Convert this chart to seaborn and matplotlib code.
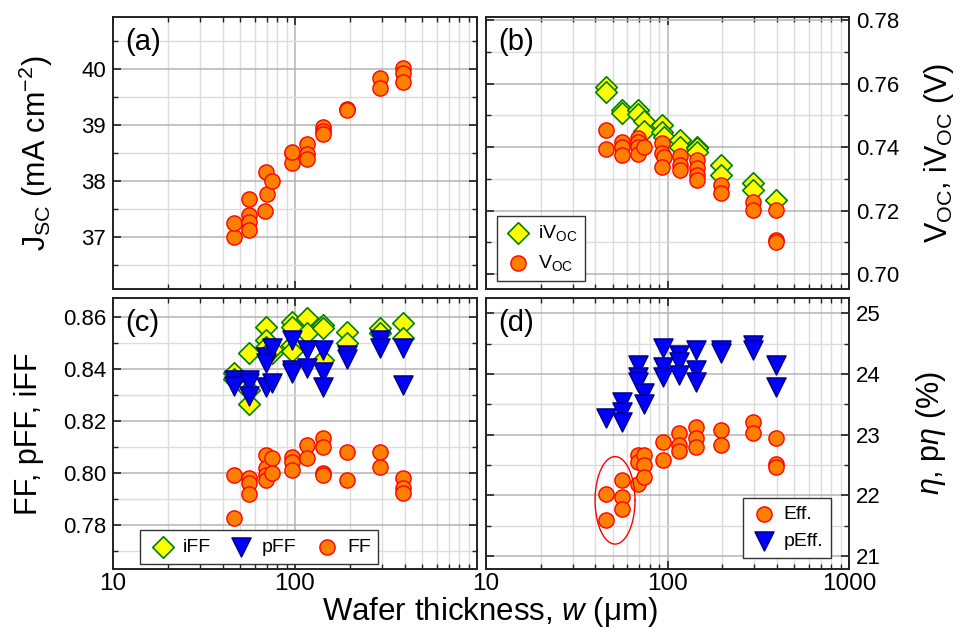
import numpy as np
import pandas as pd
import matplotlib
matplotlib.use("Agg")
import matplotlib.pyplot as plt
from matplotlib.ticker import FixedLocator, LogLocator, NullFormatter, MultipleLocator, FormatStrFormatter
import seaborn as sns

# (a) short-circuit current density
jsc_w = [46, 46, 56, 56, 56, 56, 68, 70, 69, 75, 96, 96, 96, 116, 116, 116, 142, 142, 142, 193, 193, 292, 292, 392, 392, 392]
jsc = [37.0, 37.25, 37.68, 37.39, 37.27, 37.13, 37.46, 37.77, 38.16, 38.0, 38.5, 38.33, 38.52,
       38.66, 38.48, 38.4, 38.96, 38.9, 38.84, 39.29, 39.27, 39.84, 39.66, 40.01, 39.93, 39.77]

# (b) open-circuit voltages
ivoc_w = [46, 46, 56, 56, 69, 69, 74, 74, 93, 93, 96, 117, 117, 145, 145, 145, 196, 196, 296, 296, 396]
ivoc = [0.7589, 0.7573, 0.7516, 0.7507, 0.7516, 0.7504, 0.7483, 0.745, 0.7469, 0.7447, 0.7431,
        0.7422, 0.740, 0.740, 0.7396, 0.7385, 0.7343, 0.7312, 0.7287, 0.7265, 0.7233]
voc_w = [46, 46, 56, 56, 56, 69, 69, 69, 69, 74, 93, 93, 96, 93, 117, 117, 117, 145, 145, 145, 145,
         196, 196, 296, 296, 396, 396, 396]
voc = [0.7454, 0.7394, 0.7417, 0.7401, 0.7375, 0.7429, 0.7417, 0.7401, 0.7378, 0.7401, 0.7413,
       0.7382, 0.7369, 0.7338, 0.7372, 0.7343, 0.7328, 0.7359, 0.7333, 0.7312, 0.7296, 0.728,
       0.7254, 0.7228, 0.7202, 0.7202, 0.7107, 0.7102]

# (c) fill factors
iff_w = [46, 46, 56, 56, 56, 69, 69, 69, 75, 75, 96, 96, 96, 96, 116, 116, 142, 142, 142, 193, 193, 292, 292, 392, 392]
iff = [0.8385, 0.836, 0.846, 0.8265, 0.832, 0.856, 0.851, 0.8486, 0.846, 0.8475, 0.8582, 0.8563,
       0.8492, 0.847, 0.8595, 0.854, 0.8569, 0.8556, 0.8435, 0.8543, 0.850, 0.8556, 0.8537, 0.8576, 0.8518]
pff_w = [46, 46, 56, 56, 56, 69, 69, 69, 75, 75, 96, 96, 96, 116, 116, 142, 142, 142, 193, 193, 292, 292, 392, 392]
pff = [0.8358, 0.8335, 0.8358, 0.8345, 0.8295, 0.8447, 0.8422, 0.8332, 0.848, 0.8346, 0.8512, 0.8395,
       0.8383, 0.8473, 0.8404, 0.8473, 0.839, 0.8332, 0.8454, 0.844, 0.8512, 0.848, 0.848, 0.8338]
ff_w = [46, 46, 56, 56, 56, 69, 69, 69, 69, 75, 75, 96, 96, 96, 116, 116, 142, 142, 142, 142,
        193, 193, 292, 292, 392, 392, 392]
ff = [0.7992, 0.7826, 0.798, 0.796, 0.7919, 0.8069, 0.8018, 0.7992, 0.7973, 0.8056, 0.7999, 0.8063,
      0.8044, 0.8012, 0.8108, 0.8056, 0.8133, 0.8101, 0.7999, 0.7992, 0.8082, 0.7973, 0.8082,
      0.8025, 0.798, 0.7941, 0.7922]

# (d) efficiencies
peff_w = [46, 56, 56, 56, 69, 69, 69, 74, 74, 94, 94, 94, 115, 115, 115, 144, 144, 144, 196, 196, 296, 296, 396, 396]
peff = [23.27, 23.54, 23.37, 23.21, 24.14, 23.95, 23.87, 23.68, 23.51, 24.42, 24.12, 23.95, 24.31,
        24.2, 23.98, 24.39, 24.06, 23.87, 24.39, 24.34, 24.47, 24.39, 24.14, 23.79]
eff_w = [46, 46, 56, 56, 56, 69, 69, 69, 74, 74, 74, 94, 94, 115, 115, 115, 144, 144, 144, 196, 196,
         296, 296, 396, 396, 396]
eff = [22.03, 21.59, 22.25, 21.97, 21.78, 22.66, 22.55, 22.19, 22.66, 22.5, 22.30, 22.88, 22.58,
       23.02, 22.83, 22.74, 23.13, 22.94, 22.80, 23.07, 22.83, 23.21, 23.02, 22.94, 22.52, 22.47]

sns.set_theme(style="ticks")
plt.rcParams["font.family"] = ["Liberation Sans", "DejaVu Sans"]
plt.rcParams["mathtext.fontset"] = "custom"
plt.rcParams["mathtext.rm"] = "Liberation Sans"
plt.rcParams["mathtext.it"] = "Liberation Sans:italic"
for key in ["text.color", "axes.labelcolor", "xtick.color", "ytick.color", "xtick.labelcolor", "ytick.labelcolor"]:
    plt.rcParams[key] = "black"

ORANGE = dict(marker="o", s=120, color="#ff8000", edgecolor="#ff0000", linewidth=1.0)
YELLOW = dict(marker="D", s=120, color="#ffff00", edgecolor="#008000", linewidth=1.2)
BLUE = dict(marker="v", s=190, color="#0000ff", edgecolor="#000080", linewidth=1.0)

fig = plt.figure(figsize=(9.61, 6.29), dpi=100)
L1, R1, L2, R2 = 113 / 961, 477 / 961, 486 / 961, 849 / 961
T1, B1, T2, B2 = 1 - 17 / 629, 1 - 289 / 629, 1 - 298 / 629, 1 - 569 / 629
ax_a = fig.add_axes([L1, B1, R1 - L1, T1 - B1])
ax_b = fig.add_axes([L2, B1, R2 - L2, T1 - B1])
ax_c = fig.add_axes([L1, B2, R1 - L1, T2 - B2])
ax_d = fig.add_axes([L2, B2, R2 - L2, T2 - B2])


def style_axis(ax, right, xticks, ylim, major, minor, show_x):
    ax.set_xscale("log")
    ax.set_xlim(10, 1000)
    ax.set_ylim(*ylim)
    ax.xaxis.set_major_locator(FixedLocator(xticks))
    ax.xaxis.set_major_formatter(FormatStrFormatter("%d"))
    ax.xaxis.set_minor_locator(LogLocator(base=10, subs=np.arange(2, 10)))
    ax.xaxis.set_minor_formatter(NullFormatter())
    ax.yaxis.set_major_locator(MultipleLocator(major))
    ax.yaxis.set_minor_locator(MultipleLocator(minor))
    ax.grid(which="major", color="#b4b4b4", linewidth=1.1)
    ax.grid(which="minor", color="#dcdcdc", linewidth=1.0)
    ax.set_axisbelow(True)
    ax.tick_params(which="both", direction="in", top=True, right=True, left=True, bottom=True,
                   labelbottom=show_x, labelleft=not right, labelright=right, color="#222222")
    ax.tick_params(axis="y", labelsize=16, pad=5)
    ax.tick_params(axis="x", labelsize=17.5, pad=3)
    ax.tick_params(which="major", length=6, width=1.2)
    ax.tick_params(which="minor", length=3.5, width=1.0)
    for sp in ax.spines.values():
        sp.set_linewidth(1.4)
        sp.set_color("#222222")
    ax.set_xlabel("")
    ax.set_ylabel("")


# (a)
sns.scatterplot(x=jsc_w, y=jsc, ax=ax_a, **ORANGE)
style_axis(ax_a, False, [10, 100, 1000], (36.07, 40.93), 1, 0.5, False)
ax_a.set_ylabel(r"J$_\mathregular{SC}$ (mA cm$^\mathregular{-2}$)", fontsize=22)
ax_a.yaxis.set_label_coords(-0.16, 0.5)

# (b)
sns.scatterplot(x=ivoc_w, y=ivoc, ax=ax_b, label=r"iV$_\mathregular{OC}$", **YELLOW)
sns.scatterplot(x=voc_w, y=voc, ax=ax_b, label=r"V$_\mathregular{OC}$", **ORANGE)
style_axis(ax_b, True, [10, 100, 1000], (0.6953, 0.781), 0.02, 0.01, False)
ax_b.yaxis.set_major_formatter(FormatStrFormatter("%.2f"))
ax_b.yaxis.set_label_position("right")
ax_b.set_ylabel(r"V$_\mathregular{OC}$, iV$_\mathregular{OC}$ (V)", fontsize=22)
ax_b.yaxis.set_label_coords(1.20, 0.5)
ax_b.legend(loc="lower left", fontsize=14, frameon=True, fancybox=False, edgecolor="#333333",
            framealpha=1, handletextpad=0.3, labelspacing=0.5, handlelength=1.4,
            bbox_to_anchor=(0.03, 0.03), borderaxespad=0)

# (c)
sns.scatterplot(x=iff_w, y=iff, ax=ax_c, label="iFF", **YELLOW)
sns.scatterplot(x=pff_w, y=pff, ax=ax_c, label="pFF", **BLUE)
sns.scatterplot(x=ff_w, y=ff, ax=ax_c, label="FF", **ORANGE)
style_axis(ax_c, False, [10, 100], (0.7631, 0.8673), 0.02, 0.01, True)
ax_c.yaxis.set_major_formatter(FormatStrFormatter("%.2f"))
ax_c.set_ylabel("FF, pFF, iFF", fontsize=22)
ax_c.yaxis.set_label_coords(-0.19, 0.5)
ax_c.legend(loc="lower left", ncol=3, fontsize=14, frameon=True, fancybox=False, edgecolor="#333333",
            framealpha=1, bbox_to_anchor=(0.075, 0.02), borderaxespad=0, handletextpad=0.3,
            columnspacing=0.8, handlelength=1.5)

# (d)
sns.scatterplot(x=eff_w, y=eff, ax=ax_d, label="Eff.", **ORANGE)
sns.scatterplot(x=peff_w, y=peff, ax=ax_d, label="pEff.", **BLUE)
style_axis(ax_d, True, [10, 100, 1000], (20.79, 25.25), 1, 0.5, True)
ax_d.yaxis.set_label_position("right")
ax_d.set_ylabel(r"$\eta$, p$\eta$ (%)", fontsize=22)
ax_d.yaxis.set_label_coords(1.18, 0.5)
ax_d.legend(loc="lower right", fontsize=14, frameon=True, fancybox=False, edgecolor="#333333",
            framealpha=1, bbox_to_anchor=(0.95, 0.04), borderaxespad=0, handletextpad=0.3,
            handlelength=1.4)

# red ellipse around the thinnest cells
t = np.linspace(0, 2 * np.pi, 200)
ex = 10 ** (np.log10(51.4) + 0.11 * np.cos(t))
ey = 21.92 + 0.72 * np.sin(t)
ax_d.plot(ex, ey, color="red", linewidth=1.0)

for ax, tag in zip([ax_a, ax_b, ax_c, ax_d], ["(a)", "(b)", "(c)", "(d)"]):
    ax.text(0.035, 0.96, tag, transform=ax.transAxes, fontsize=21, va="top", ha="left")

fig.text(0.51, 0.0, r"Wafer thickness, $\mathit{w}$ (μm)", fontsize=22.5, ha="center", va="bottom")

fig.savefig("out.png", dpi=100)
